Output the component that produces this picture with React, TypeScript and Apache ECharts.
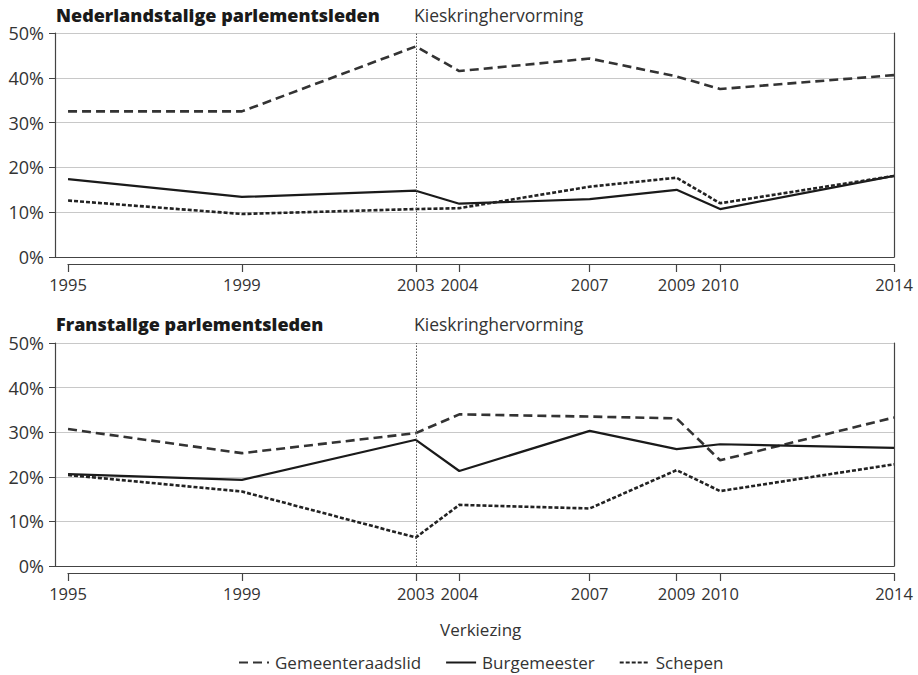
import React, { useEffect, useRef } from "react";
import * as echarts from "echarts";

const years = [1995, 1999, 2003, 2004, 2007, 2009, 2010, 2014];
const yTicks = [0, 10, 20, 30, 40, 50];
const seriesNames = ["Gemeenteraadslid", "Burgemeester", "Schepen"];

const nlGemeenteraadslid = [32.5, 32.5, 47.0, 41.5, 44.3, 40.3, 37.5, 40.6];
const nlBurgemeester = [17.4, 13.4, 14.8, 11.9, 12.9, 15.0, 10.7, 18.1];
const nlSchepen = [12.6, 9.6, 10.7, 10.9, 15.7, 17.7, 12.0, 18.1];

const frGemeenteraadslid = [30.7, 25.3, 29.8, 34.0, 33.5, 33.1, 23.7, 33.3];
const frBurgemeester = [20.6, 19.3, 28.3, 21.3, 30.3, 26.2, 27.3, 26.5];
const frSchepen = [20.4, 16.7, 6.4, 13.7, 12.9, 21.5, 16.8, 22.8];

const reformYear = 2003;
const panelTitles = ["Nederlandstalige parlementsleden", "Franstalige parlementsleden"];
const reformLabel = "Kieskringhervorming";
const xAxisName = "Verkiezing";

const FONT = "'Open Sans', 'Noto Sans', sans-serif";
const TEXT = "#333";

const styles = [
  { color: "#333", width: 2.6, type: [9, 5] as any },
  { color: "#1a1a1a", width: 2.2, type: "solid" as any },
  { color: "#222", width: 2.6, type: [4, 2] as any },
];

function pairs(vals: number[]) {
  return years.map((y, i) => [y, vals[i]]);
}

export default function App() {
  const ref = useRef<HTMLDivElement>(null);
  useEffect(() => {
    if (!ref.current) return;
    const chart = echarts.init(ref.current, undefined, { renderer: "svg" });
    const panels = [
      { top: 33, height: 224, axisTop: 263, titleTop: 6, data: [nlGemeenteraadslid, nlBurgemeester, nlSchepen] },
      { top: 343, height: 223, axisTop: 572, titleTop: 315, data: [frGemeenteraadslid, frBurgemeester, frSchepen] },
    ];
    const grid: any[] = [];
    const xAxis: any[] = [];
    const yAxis: any[] = [];
    const series: any[] = [];
    const title: any[] = [];
    panels.forEach((p, pi) => {
      const gMain = grid.length;
      grid.push({ left: 55, right: 24, top: p.top, height: p.height });
      const gStrip = grid.length;
      grid.push({ left: 68, right: 24, top: p.axisTop, height: 1 });
      const xMain = xAxis.length;
      xAxis.push({
        gridIndex: gMain, type: "value", min: 1994.7, max: 2014, position: "bottom",
        axisLine: { show: false }, axisTick: { show: false }, axisLabel: { show: false }, splitLine: { show: false },
      });
      xAxis.push({
        gridIndex: gMain, type: "value", min: 1994.7, max: 2014, position: "top",
        axisLine: { show: true, lineStyle: { color: "#444", width: 1.2 } },
        axisTick: { show: false }, axisLabel: { show: false }, splitLine: { show: false },
      });
      xAxis.push({
        gridIndex: gStrip, type: "value", min: 1995, max: 2014, position: "bottom",
        axisLine: { show: true, lineStyle: { color: "#444", width: 1.2 } },
        axisTick: { show: true, length: 8, customValues: years, lineStyle: { color: "#444", width: 1.2 } },
        axisLabel: {
          show: true, customValues: years, margin: 12, fontSize: 16.5, color: TEXT, fontFamily: FONT,
          formatter: (v: number) => String(v),
        },
        splitLine: { show: false },
      });
      const yMain = yAxis.length;
      yAxis.push({
        gridIndex: gMain, type: "value", min: 0, max: 50, interval: 10,
        axisLine: { show: true, lineStyle: { color: "#444", width: 1.2 } },
        axisTick: { show: true, length: 6, lineStyle: { color: "#444" } },
        axisLabel: { formatter: "{value}%", fontSize: 18, color: TEXT, fontFamily: FONT, margin: 11 },
        splitLine: { show: true, lineStyle: { color: "#c8c8c8", width: 1 } },
      });
      yAxis.push({
        gridIndex: gMain, type: "value", min: 0, max: 50, position: "right",
        axisLine: { show: true, lineStyle: { color: "#444", width: 1.2 } },
        axisTick: { show: false }, axisLabel: { show: false }, splitLine: { show: false },
      });
      yAxis.push({ gridIndex: gStrip, type: "value", show: false, min: 0, max: 1 });
      p.data.forEach((vals, si) => {
        const s: any = {
          name: seriesNames[si], type: "line", xAxisIndex: xMain, yAxisIndex: yMain,
          data: pairs(vals), showSymbol: false, symbol: "none",
          lineStyle: styles[si], itemStyle: { color: styles[si].color }, z: 3,
        };
        if (si === 0) {
          s.markLine = {
            silent: true, symbol: "none", label: { show: false },
            lineStyle: { type: [1.5, 1.5], color: "#555", width: 1 },
            data: [{ xAxis: reformYear }],
          };
        }
        series.push(s);
      });
      title.push({
        text: panelTitles[pi], left: 56, top: p.titleTop, padding: 0,
        textStyle: { fontSize: 18, fontWeight: 800, color: "#1a1a1a", fontFamily: FONT },
      });
      title.push({
        text: reformLabel, left: 414, top: p.titleTop, padding: 0,
        textStyle: { fontSize: 17.5, fontWeight: "normal", color: TEXT, fontFamily: FONT },
      });
    });
    title.push({
      text: xAxisName, left: 440, top: 621, padding: 0,
      textStyle: { fontSize: 17, fontWeight: "normal", color: TEXT, fontFamily: FONT },
    });
    chart.setOption({
      animation: false,
      backgroundColor: "#fff",
      title,
      grid,
      xAxis,
      yAxis,
      series,
      legend: {
        data: seriesNames, left: 238, top: 654, padding: 0, itemGap: 24, itemWidth: 30, itemHeight: 14,
        itemStyle: { opacity: 0 },
        textStyle: { fontSize: 17, color: TEXT, fontFamily: FONT, padding: [0, 0, 0, 1] },
      },
    });
    return () => chart.dispose();
  }, []);
  return <div ref={ref} style={{ position: "fixed", left: 0, top: 0, width: 918, height: 675, background: "#fff" }} />;
}
